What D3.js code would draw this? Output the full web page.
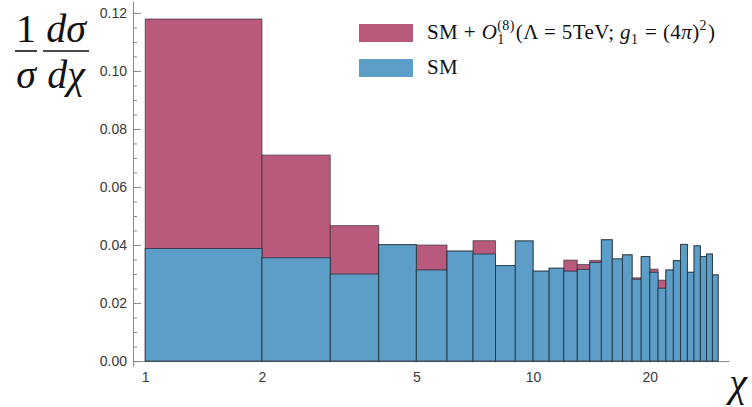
<!DOCTYPE html>
<html>
<head>
<meta charset="utf-8">
<script src="https://cdn.jsdelivr.net/npm/d3@7"></script>
<style>
  html, body { margin: 0; padding: 0; background: #fff; }
  svg { display: block; }
  text { white-space: pre; }
</style>
</head>
<body>
<svg id="chart" width="752" height="407"></svg>
<script>
// Bin edges in chi (integer-width bins on a log axis)
const binEdges = [1, 2, 3, 4, 5, 6, 7, 8, 9, 10, 11, 12, 13, 14, 15, 16, 17, 18, 19, 20,
                  21, 22, 23, 24, 25, 26, 27, 28, 29, 30];
// Standard Model normalised distribution per bin
const smValues = [0.0388, 0.0356, 0.0300, 0.0401, 0.0314, 0.0379, 0.0369, 0.0329, 0.0414, 0.0310,
                  0.0320, 0.0310, 0.0316, 0.0340, 0.0418, 0.0352, 0.0366, 0.0282, 0.0360, 0.0306,
                  0.0251, 0.0314, 0.0346, 0.0402, 0.0306, 0.0397, 0.0360, 0.0369, 0.0297];
// SM + dimension-8 operator distribution per bin
const bsmValues = [0.1179, 0.0710, 0.0467, 0.0401, 0.0400, 0.0379, 0.0415, 0.0329, 0.0414, 0.0310,
                   0.0320, 0.0348, 0.0333, 0.0347, 0.0418, 0.0352, 0.0366, 0.0287, 0.0360, 0.0317,
                   0.0279, 0.0314, 0.0346, 0.0402, 0.0306, 0.0397, 0.0360, 0.0369, 0.0297];
const xTickValues = [1, 2, 5, 10, 20];
const yMajorTicks = [0.00, 0.02, 0.04, 0.06, 0.08, 0.10, 0.12];
const yMinorTicks = d3.range(0, 0.1241, 0.005);

const colorBSM = "#b95a7d";
const colorSM = "#5c9ec7";
const axisGray = "#8c8c8c";

const svg = d3.select("#chart");

const x = d3.scaleLog().domain([0.93, 32]).range([133, 729]);
const y = d3.scaleLinear().domain([-0.0017, 0.1241]).range([366, 1]);

// Axes
const yMinor = d3.axisLeft(y).tickValues(yMinorTicks).tickSizeInner(-4).tickSizeOuter(0).tickFormat("");
const gyMinor = svg.append("g").attr("transform", "translate(133,0)").call(yMinor);
gyMinor.select(".domain").remove();
gyMinor.selectAll("line").attr("stroke", axisGray);

const yMajor = d3.axisLeft(y).tickValues(yMajorTicks).tickSizeInner(-8).tickSizeOuter(0)
  .tickPadding(6).tickFormat(d3.format(".2f"));
const gy = svg.append("g").attr("transform", "translate(133,0)").call(yMajor);
gy.select(".domain").attr("stroke", axisGray);
gy.selectAll("line").attr("stroke", axisGray);
gy.selectAll("text").attr("fill", "#3a3a3a").style("font-family", "'Liberation Sans', Arial, sans-serif")
  .style("font-size", "14px");

const xAxis = d3.axisBottom(x).tickValues(xTickValues).tickSizeInner(0).tickSizeOuter(0)
  .tickPadding(11).tickFormat(d3.format("d"));
const gx = svg.append("g").attr("transform", `translate(0,${y(0)})`).call(xAxis);
gx.select(".domain").attr("stroke", axisGray);
gx.selectAll("text").attr("fill", "#3a3a3a").style("font-family", "'Liberation Sans', Arial, sans-serif")
  .style("font-size", "14px");

// Histogram bars: SM + operator behind, SM in front
const bins = smValues.map((v, i) => ({ x0: binEdges[i], x1: binEdges[i + 1], sm: v, bsm: bsmValues[i] }));

const barStroke = "#1e2830";
svg.append("g").selectAll("rect").data(bins).join("rect")
  .attr("x", d => x(d.x0))
  .attr("width", d => x(d.x1) - x(d.x0))
  .attr("y", d => y(d.bsm))
  .attr("height", d => y(0) - y(d.bsm))
  .attr("fill", colorBSM)
  .attr("stroke", barStroke).attr("stroke-opacity", 0.6).attr("stroke-width", 1);

svg.append("g").selectAll("rect").data(bins).join("rect")
  .attr("x", d => x(d.x0))
  .attr("width", d => x(d.x1) - x(d.x0))
  .attr("y", d => y(d.sm))
  .attr("height", d => y(0) - y(d.sm))
  .attr("fill", colorSM)
  .attr("stroke", barStroke).attr("stroke-opacity", 0.75).attr("stroke-width", 1);

// Axis labels (math-style)
const serif = "'Liberation Serif', 'DejaVu Serif', serif";
const ylab = svg.append("g").style("font-family", serif).attr("fill", "#111");
ylab.append("text").attr("x", 26).attr("y", 42).attr("text-anchor", "middle")
  .style("font-size", "40px").text("1");
ylab.append("line").attr("x1", 15).attr("x2", 37).attr("y1", 51).attr("y2", 51)
  .attr("stroke", "#111").attr("stroke-width", 1.6);
ylab.append("text").attr("x", 26).attr("y", 88).attr("text-anchor", "middle")
  .style("font-size", "40px").style("font-style", "italic").text("σ");
ylab.append("text").attr("x", 66).attr("y", 42).attr("text-anchor", "middle")
  .style("font-size", "40px").style("font-style", "italic").text("dσ");
ylab.append("line").attr("x1", 43).attr("x2", 89).attr("y1", 51).attr("y2", 51)
  .attr("stroke", "#111").attr("stroke-width", 1.6);
ylab.append("text").attr("x", 66).attr("y", 88).attr("text-anchor", "middle")
  .style("font-size", "40px").style("font-style", "italic").text("dχ");

svg.append("text").attr("x", 738).attr("y", 396).attr("text-anchor", "middle")
  .style("font-family", serif).style("font-size", "40px").style("font-style", "italic")
  .attr("fill", "#111").text("χ");

// Legend
const legend = svg.append("g");
legend.append("rect").attr("x", 359).attr("y", 24).attr("width", 54).attr("height", 18).attr("fill", colorBSM);
legend.append("rect").attr("x", 359).attr("y", 59).attr("width", 54).attr("height", 18).attr("fill", colorSM);

const legendSize = 21;
const smallSize = 14;
const pieces = [
  { t: "SM + " },
  { t: "O", it: true },
  { sup: "(8)", sub: "1" },
  { t: "(Λ = 5TeV; " },
  { t: "g", it: true },
  { sub: "1" },
  { t: " = (4" },
  { t: "π", it: true },
  { t: ")" },
  { sup: "2" },
  { t: ")" }
];
let cx = 427;
const base1 = 39;
const lg = legend.append("g").style("font-family", serif).attr("fill", "#111");
function piece(txt, px, py, size, italic) {
  const el = lg.append("text").attr("x", px).attr("y", py)
    .style("font-size", size + "px").style("letter-spacing", "0.4px")
    .style("font-style", italic ? "italic" : "normal").text(txt);
  return el.node().getComputedTextLength();
}
pieces.forEach(p => {
  if (p.t !== undefined) {
    cx += piece(p.t, cx, base1, legendSize, p.it);
  } else {
    let w = 0;
    if (p.sup) w = Math.max(w, piece(p.sup, cx, base1 - 9, smallSize, false));
    if (p.sub) w = Math.max(w, piece(p.sub, cx, base1 + 5, smallSize, false));
    cx += w + 1;
  }
});
lg.append("text").attr("x", 427).attr("y", 74).style("font-size", legendSize + "px")
  .style("letter-spacing", "0.4px").text("SM");
</script>
</body>
</html>
